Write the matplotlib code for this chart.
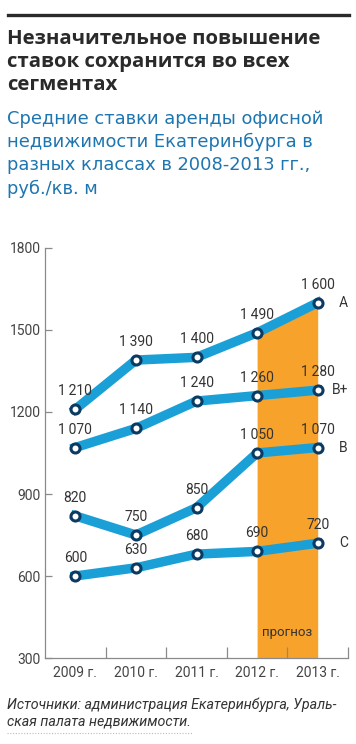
import numpy as np
import matplotlib.pyplot as plt

# данные
years = ['2009 г.', '2010 г.', '2011 г.', '2012 г.', '2013 г.']
class_a = [1210, 1390, 1400, 1490, 1600]
class_bp = [1070, 1140, 1240, 1260, 1280]
class_b = [820, 750, 850, 1050, 1070]
class_c = [600, 630, 680, 690, 720]
series_names = ['A', 'B+', 'B', 'C']
yticks = [300, 600, 900, 1200, 1500, 1800]

W, H = 356, 744
line_color = '#1AA0D6'
edge_color = '#0B3A63'
orange = '#F7A22B'
axis_color = '#8A8A8A'
text_color = '#333333'

plt.rcParams['font.family'] = ['Roboto', 'DejaVu Sans']

fig = plt.figure(figsize=(W / 100, H / 100), dpi=100)


def fx(x):
    return x / W


def fy(y):
    return 1 - y / H


# верхняя линейка
fig.add_artist(plt.Line2D([fx(8), fx(349)], [fy(14.5), fy(14.5)], color='#2A2A2A', linewidth=2.4))

# заголовок
title_lines = ['Незначительное повышение', 'ставок сохранится во всех', 'сегментах']
for i, t in enumerate(title_lines):
    fig.text(fx(7), fy(38.5 + i * 23.5), t, fontsize=14.7, fontweight='bold', color='#2A2A2A',
             va='center', ha='left', family=['Open Sans', 'DejaVu Sans'])

sub_lines = ['Средние ставки аренды офисной', 'недвижимости Екатеринбурга в',
             'разных классах в 2008-2013 гг.,', 'руб./кв. м']
for i, t in enumerate(sub_lines):
    fig.text(fx(7), fy(118.5 + i * 23.5), t, fontsize=12.9, color='#1E76B0', va='center', ha='left',
             family=['DejaVu Sans'])

# оси
ax = fig.add_axes([fx(45), fy(658), fx(348) - fx(45), fy(248) - fy(658)])
ax.set_xlim(-0.5, 4.5)
ax.set_ylim(300, 1800)
x = np.arange(len(years))

# прогноз
ax.fill_between(x[3:], 300, class_a[3:], color=orange, linewidth=0, zorder=1)
ax.text(3.5, 395, 'прогноз', ha='center', va='center', fontsize=9.5, color=text_color, zorder=2)

all_series = [class_a, class_bp, class_b, class_c]
for vals, name in zip(all_series, series_names):
    ax.plot(x, vals, color=line_color, linewidth=6.8, solid_joinstyle='miter', zorder=3)
    ax.plot(x, vals, linestyle='none', marker='o', markersize=6.5, markerfacecolor='white',
            markeredgecolor=edge_color, markeredgewidth=2.2, zorder=4)
    for xi, v in zip(x, vals):
        lab = f'{v // 1000}\u2009{v % 1000:03d}' if v >= 1000 else str(v)
        ax.text(xi, v + 40, lab, ha='center', va='bottom', fontsize=10, color=text_color, zorder=5)
    ax.text(4.5, vals[-1], name, ha='right', va='center', fontsize=10, color=text_color)

for s in ['top', 'right']:
    ax.spines[s].set_visible(False)
for s in ['left', 'bottom']:
    ax.spines[s].set_color(axis_color)
    ax.spines[s].set_linewidth(0.9)

ax.set_yticks(yticks)
ax.set_yticklabels([str(v) for v in yticks])
ax.tick_params(axis='y', direction='in', length=5, width=0.9, color=axis_color,
               labelsize=10, labelcolor='#444444', pad=3)
ax.set_xticks(np.arange(0.5, 5, 1.0))
ax.set_xticklabels([])
ax.set_xticks(x, minor=True)
ax.set_xticklabels(years, minor=True)
ax.tick_params(axis='x', which='major', direction='in', length=8, width=0.9, color=axis_color)
ax.tick_params(axis='x', which='minor', length=0, labelsize=10, labelcolor='#444444', pad=6)
ax.patch.set_alpha(0)
for a in ax.get_children():
    try:
        a.set_clip_on(False)
    except Exception:
        pass

# источники
fig.text(fx(7), fy(705), 'Источники: администрация Екатеринбурга, Ураль-', fontsize=10.3,
         style='italic', color=text_color, va='center')
fig.text(fx(7), fy(722), 'ская палата недвижимости.', fontsize=10.3,
         style='italic', color=text_color, va='center')
fig.add_artist(plt.Line2D([fx(7), fx(192)], [fy(733), fy(733)], color='#BBBBBB', linewidth=0.8,
                          linestyle=(0, (1, 1.5))))

fig.savefig('out.png', dpi=100, facecolor='white')
